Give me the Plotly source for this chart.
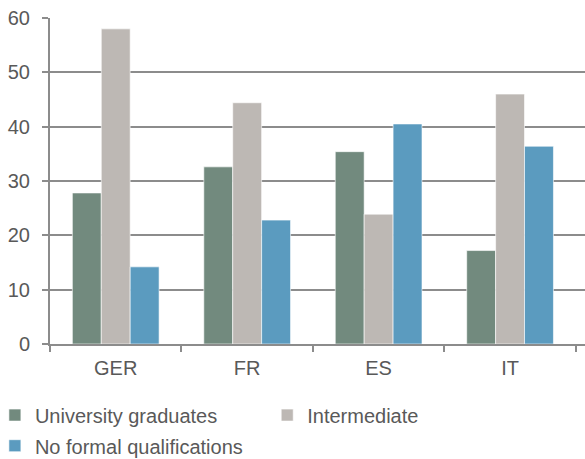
import plotly.graph_objects as go

categories = ["GER", "FR", "ES", "IT"]
university = [27.8, 32.6, 35.4, 17.2]
intermediate = [58.0, 44.4, 23.9, 46.0]
no_formal = [14.2, 22.8, 40.5, 36.4]

series = [
    ("University graduates", university, "#728a7e", "legend"),
    ("Intermediate", intermediate, "#bdb8b4", "legend2"),
    ("No formal qualifications", no_formal, "#5b9bbf", "legend3"),
]

fig = go.Figure()
for name, vals, color, lg in series:
    fig.add_trace(go.Bar(
        x=categories, y=vals, name=name, legend=lg,
        marker=dict(color=color, line=dict(color="rgba(255,255,255,0.6)", width=1)),
    ))

txt = "#595959"
lfont = dict(size=20, color=txt)
common = dict(xanchor="left", yanchor="middle", font=lfont, itemwidth=30,
              bgcolor="rgba(0,0,0,0)")

fig.update_layout(
    width=585, height=459,
    margin=dict(l=50, r=0, t=18, b=115, autoexpand=False),
    paper_bgcolor="white", plot_bgcolor="white",
    font=dict(family="Liberation Sans, Arial, sans-serif", size=19, color=txt),
    barmode="group", bargap=0.34, bargroupgap=0,
    showlegend=True,
    legend=dict(x=-0.103, y=-0.218, **common),
    legend2=dict(x=0.406, y=-0.218, **common),
    legend3=dict(x=-0.103, y=-0.312, **common),
    xaxis=dict(
        type="category", range=[-0.5, 3.57],
        showline=True, linecolor="#8c8c8c", linewidth=2,
        ticks="outside", tickson="boundaries", ticklen=6, tickwidth=2, tickcolor="#8c8c8c",
        showgrid=False, tickfont=dict(size=20, color=txt),
        ticklabelstandoff=5,
    ),
    yaxis=dict(
        range=[0, 60], tickvals=[0, 10, 20, 30, 40, 50, 60],
        showline=True, linecolor="#8c8c8c", linewidth=2,
        ticks="outside", ticklen=6, tickwidth=2, tickcolor="#8c8c8c",
        showgrid=True, gridcolor="#8c8c8c", gridwidth=2, zeroline=False,
        tickfont=dict(size=20, color=txt),
        ticklabelstandoff=8,
    ),
)

fig.write_html("out.html")
